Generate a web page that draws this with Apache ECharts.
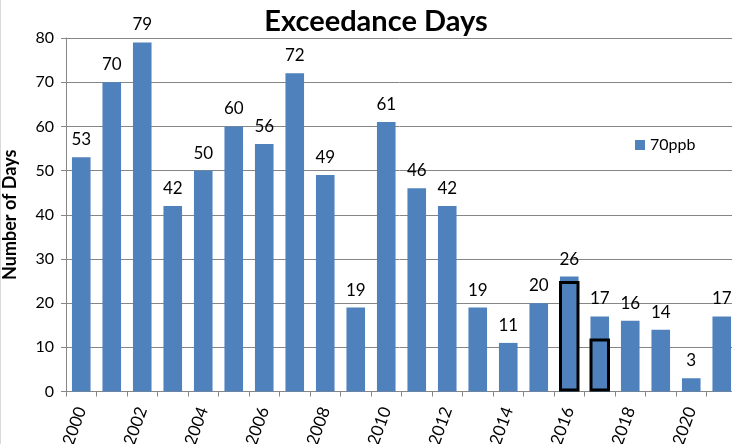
<!DOCTYPE html>
<html><head><meta charset="utf-8">
<script src="https://cdn.jsdelivr.net/npm/echarts@6/dist/echarts.min.js"></script>
<style>html,body{margin:0;padding:0;background:#fff}#c{width:732px;height:444px}</style>
</head><body><div id="c"></div>
<script>
const years = ['2000','2001','2002','2003','2004','2005','2006','2007','2008','2009','2010','2011','2012','2013','2014','2015','2016','2017','2018','2019','2020','2021'];
const days70ppb = [53,70,79,42,50,60,56,72,49,19,61,46,42,19,11,20,26,17,16,14,3,17];
const outlineValues = [null,null,null,null,null,null,null,null,null,null,null,null,null,null,null,null,25,12,null,null,null,null];
const yTicks = [0,10,20,30,40,50,60,70,80];
const FONT = 'Lato';
const chart = echarts.init(document.getElementById('c'));
chart.setOption({
  animation:false,
  textStyle:{fontFamily:FONT},
  title:{text:'Exceedance Days',left:371,top:2,textAlign:'center',textStyle:{fontFamily:FONT,fontSize:29,fontWeight:'bold',color:'#000'}},
  legend:{data:['70ppb'],left:630,top:132,itemWidth:10,itemHeight:10,itemGap:5,icon:'rect',textStyle:{fontFamily:FONT,fontSize:16,color:'#000'}},
  grid:{left:66,right:-5,top:38,bottom:52.5,containLabel:false,outerBoundsMode:'none'},
  xAxis:[{type:'category',data:years,
    axisLine:{lineStyle:{color:'#868686',width:1}},
    axisTick:{show:true,length:5,alignWithLabel:false,interval:0,lineStyle:{color:'#868686'}},
    axisLabel:{interval:1,rotate:70,fontFamily:FONT,fontSize:17,color:'#000',margin:16}},
    {type:'category',data:years,show:false,position:'bottom'}],
  yAxis:{type:'value',min:yTicks[0],max:yTicks[yTicks.length-1],interval:10,
    name:'Number of Days',nameLocation:'middle',nameGap:47,nameRotate:90,
    nameTextStyle:{fontFamily:FONT,fontSize:18,fontWeight:'bold',color:'#000'},
    axisLine:{show:true,lineStyle:{color:'#868686'}},
    axisTick:{show:true,length:5,lineStyle:{color:'#868686'}},
    splitLine:{lineStyle:{color:'#868686',width:1}},
    axisLabel:{fontFamily:FONT,fontSize:16,color:'#000',margin:12}},
  series:[
    {name:'70ppb',type:'bar',data:days70ppb,barWidth:18.6,
      itemStyle:{color:'#4f81bd'},
      label:{show:true,position:'top',distance:9,fontFamily:FONT,fontSize:17,color:'#000'}},
    {name:'outline',type:'bar',xAxisIndex:1,data:outlineValues,barWidth:20.5,
      itemStyle:{color:'rgba(0,0,0,0)',borderColor:'#000',borderWidth:3},
      label:{show:false},z:5}
  ],
  graphic:[{type:'line',shape:{x1:0.5,y1:0,x2:0.5,y2:444},style:{stroke:'#d9d9d9',lineWidth:1}}]
});
</script></body></html>
